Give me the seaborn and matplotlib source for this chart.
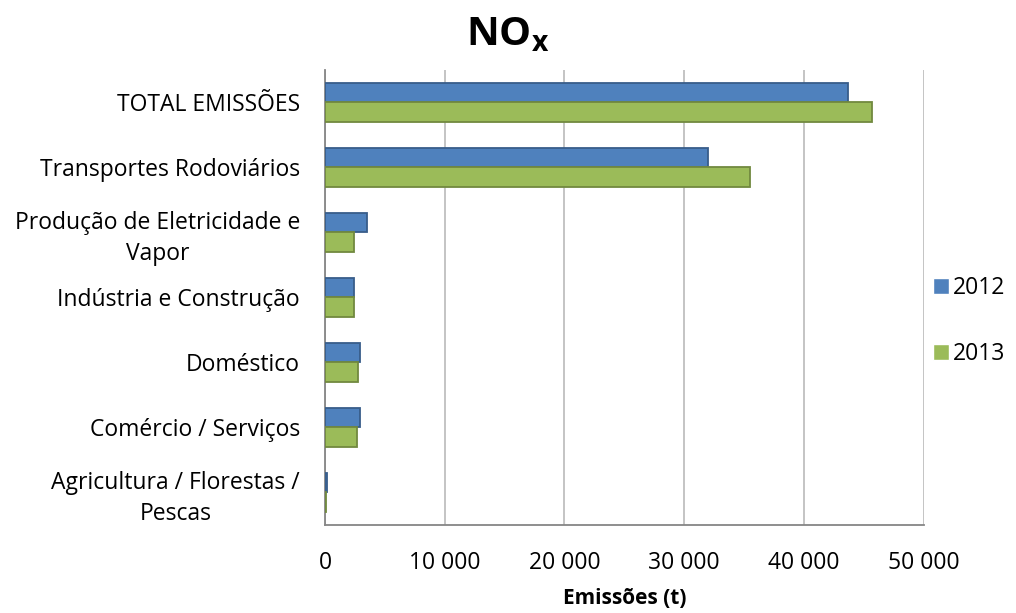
import pandas as pd
import seaborn as sns
import matplotlib.pyplot as plt
from matplotlib.ticker import FuncFormatter, FixedLocator

categorias = ["TOTAL EMISSÕES", "Transportes Rodoviários",
              "Produção de Eletricidade e\nVapor", "Indústria e Construção",
              "Doméstico", "Comércio / Serviços",
              "Agricultura / Florestas /\nPescas"]
emis_2012 = [43700, 32000, 3500, 2400, 2900, 2950, 120]
emis_2013 = [45700, 35500, 2400, 2400, 2750, 2700, 100]
anos = ["2012", "2013"]

df = pd.DataFrame({
    "Categoria": categorias * 2,
    "Emissões": emis_2012 + emis_2013,
    "Ano": [anos[0]] * len(categorias) + [anos[1]] * len(categorias),
})

sns.set_style("white")
plt.rcParams["font.family"] = ["Open Sans", "DejaVu Sans"]
plt.rcParams["mathtext.fontset"] = "custom"
plt.rcParams["mathtext.rm"] = "Open Sans"
plt.rcParams["mathtext.bf"] = "Open Sans:bold"
plt.rcParams["text.color"] = "black"
plt.rcParams["xtick.labelcolor"] = "black"
plt.rcParams["ytick.labelcolor"] = "black"
plt.rcParams["axes.labelcolor"] = "black"

cores = {"2012": "#4F81BD", "2013": "#9BBB59"}
bordas = {"2012": "#385D8A", "2013": "#71893F"}

fig = plt.figure(figsize=(10.16, 6.13), dpi=100)
ax = fig.add_axes([0.32, 0.1436, 0.589, 0.7424])

sns.barplot(data=df, y="Categoria", x="Emissões", hue="Ano", palette=cores,
            orient="h", width=0.6, saturation=1, ax=ax, zorder=3)

for cont, ano in zip(ax.containers, anos):
    for p in cont:
        p.set_edgecolor(bordas[ano])
        p.set_linewidth(1.3)

ax.set_xlim(0, 50000)
ax.set_ylim(6.5, -0.5)
ax.xaxis.set_major_formatter(FuncFormatter(lambda v, _: f"{v:,.0f}".replace(",", " ")))
ax.grid(axis="x", color="#BFBFBF", linewidth=1.3, zorder=0)
ax.set_axisbelow(True)

for s in ["top", "right"]:
    ax.spines[s].set_visible(False)
for s in ["left", "bottom"]:
    ax.spines[s].set_color("#868686")
    ax.spines[s].set_linewidth(1.3)

ax.tick_params(axis="y", which="major", length=0, pad=18, labelsize=16.5)
for t in ax.get_yticklabels():
    t.set_multialignment("center")
    t.set_linespacing(1.35)
ax.yaxis.set_minor_locator(FixedLocator([i - 0.5 for i in range(8)]))
ax.tick_params(axis="y", which="minor", length=5, color="#868686", width=1.3, direction="out")
ax.tick_params(axis="x", length=5, color="#868686", width=1.3, pad=14, labelsize=16.5)

ax.set_ylabel("")
ax.set_xlabel("Emissões (t)", fontsize=15, fontweight="bold", labelpad=9)
fig.text(0.5, 0.942, r"$\mathbf{NO_x}$", fontsize=29, ha="center", va="center")

h, l = ax.get_legend_handles_labels()
ax.legend(h, l, loc="center left", bbox_to_anchor=(0.918, 0.476),
          bbox_transform=fig.transFigure, frameon=False, fontsize=16.5,
          borderaxespad=0, borderpad=0,
          handlelength=0.7, handleheight=0.7, handletextpad=0.2, labelspacing=1.85)

fig.savefig("out.png", dpi=100)
